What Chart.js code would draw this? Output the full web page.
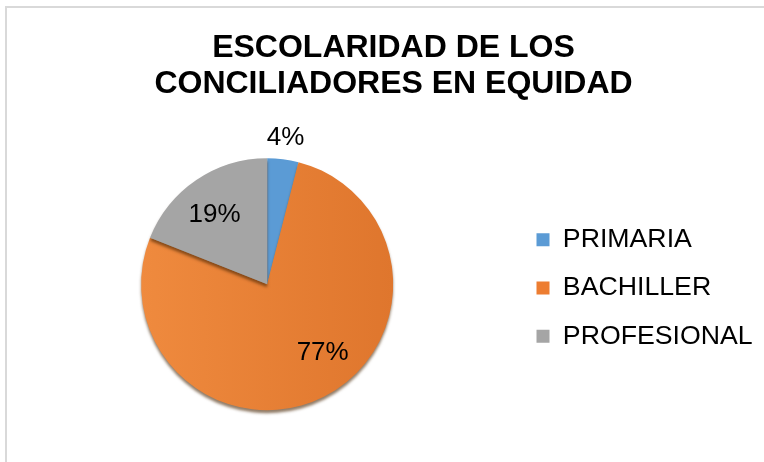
<!DOCTYPE html>
<html>
<head>
<meta charset="utf-8">
<script src="https://cdn.jsdelivr.net/npm/chart.js@4/dist/chart.umd.min.js"></script>
<style>
  html, body { margin: 0; padding: 0; background: #fff; overflow: hidden; }
  #frame { position: absolute; left: 5px; top: 6px; width: 900px; height: 600px; border: 2px solid #d9d9d9; box-sizing: border-box; }
  #wrap { position: absolute; left: 0; top: 0; width: 764px; height: 462px; }
</style>
</head>
<body>
<div id="frame"></div>
<div id="wrap"><canvas id="myChart" width="764" height="462"></canvas></div>
<script>
'use strict';

let categories = ['PRIMARIA', 'BACHILLER', 'PROFESIONAL'];
let percents = [4, 77, 19];
let sliceColors = ['#5b9bd5', '#ed7d31', '#a5a5a5'];
let titleLines = ['ESCOLARIDAD DE LOS', 'CONCILIADORES EN EQUIDAD'];

// where each percent label goes: fraction of the radius and a small angle shift (degrees)
let labelPlace = [
    { r: 1.17, turn: 0 },
    { r: 0.70, turn: -12 },
    { r: 0.69, turn: -3 }
];

let pieRadius = 126;

const pctLabels = {
    id: 'pctLabels',
    afterDatasetsDraw(chart) {
        let ctx = chart.ctx;
        let meta = chart.getDatasetMeta(0);
        ctx.save();
        ctx.font = '26px Arial, "Liberation Sans", sans-serif';
        ctx.fillStyle = '#000';
        ctx.textAlign = 'center';
        ctx.textBaseline = 'middle';
        meta.data.forEach(function (arc, i) {
            let p = arc.getProps(['x', 'y', 'startAngle', 'endAngle', 'outerRadius'], true);
            let mid = (p.startAngle + p.endAngle) / 2 + labelPlace[i].turn * Math.PI / 180;
            let d = p.outerRadius * labelPlace[i].r;
            ctx.fillText(percents[i] + '%', p.x + Math.cos(mid) * d, p.y + Math.sin(mid) * d);
        });
        ctx.restore();
    }
};

const pieShadow = {
    id: 'pieShadow',
    beforeDatasetsDraw(chart) {
        let ctx = chart.ctx;
        ctx.save();
        ctx.shadowColor = 'rgba(70,35,0,0.6)';
        ctx.shadowBlur = 3;
        ctx.shadowOffsetY = 3;
    },
    afterDatasetsDraw(chart) {
        chart.ctx.restore();
    }
};

// nudge the title and the legend to where they sit in the original
const placeBoxes = {
    id: 'placeBoxes',
    afterLayout(chart) {
        let t = chart.titleBlock;
        t.left = 23;
        t.right = 764;
        let lg = chart.legend;
        let w = lg.right - lg.left;
        let h = lg.bottom - lg.top;
        lg.left = 515;
        lg.right = lg.left + w;
        lg.top = 205;
        lg.bottom = lg.top + h;
    }
};

function sliceFill(context) {
    let i = context.dataIndex;
    let area = context.chart.chartArea;
    if (i !== 1 || !area) return sliceColors[i];
    let cx = (area.left + area.right) / 2;
    let g = context.chart.ctx.createLinearGradient(cx - pieRadius, 0, cx + pieRadius, 0);
    g.addColorStop(0, '#ef8a3e');
    g.addColorStop(1, '#df762d');
    return g;
}

let ctx = document.getElementById('myChart').getContext('2d');
let myChart = new Chart(ctx, {
    type: 'pie',
    data: {
        labels: categories,
        datasets: [{
            data: percents,
            backgroundColor: sliceFill,
            borderWidth: 0
        }]
    },
    options: {
        responsive: false,
        animation: false,
        radius: pieRadius,
        layout: { padding: { left: 18, right: 0, top: 0, bottom: 5 } },
        plugins: {
            title: {
                display: true,
                text: titleLines,
                color: '#000',
                font: { family: 'Arial, "Liberation Sans", sans-serif', size: 32, weight: 'bold', lineHeight: 1.1 },
                padding: { top: 31, bottom: 10 }
            },
            legend: {
                position: 'right',
                align: 'start',
                labels: {
                    color: '#000',
                    boxWidth: 13,
                    boxHeight: 13,
                    padding: 21.5,
                    font: { family: 'Arial, "Liberation Sans", sans-serif', size: 26.7 },
                    generateLabels(chart) {
                        return categories.map(function (c, i) {
                            return { text: c, fillStyle: sliceColors[i], strokeStyle: sliceColors[i], lineWidth: 0, index: i, hidden: false };
                        });
                    }
                }
            },
            tooltip: { enabled: false }
        }
    },
    plugins: [placeBoxes, pieShadow, pctLabels]
});
</script>
</body>
</html>
